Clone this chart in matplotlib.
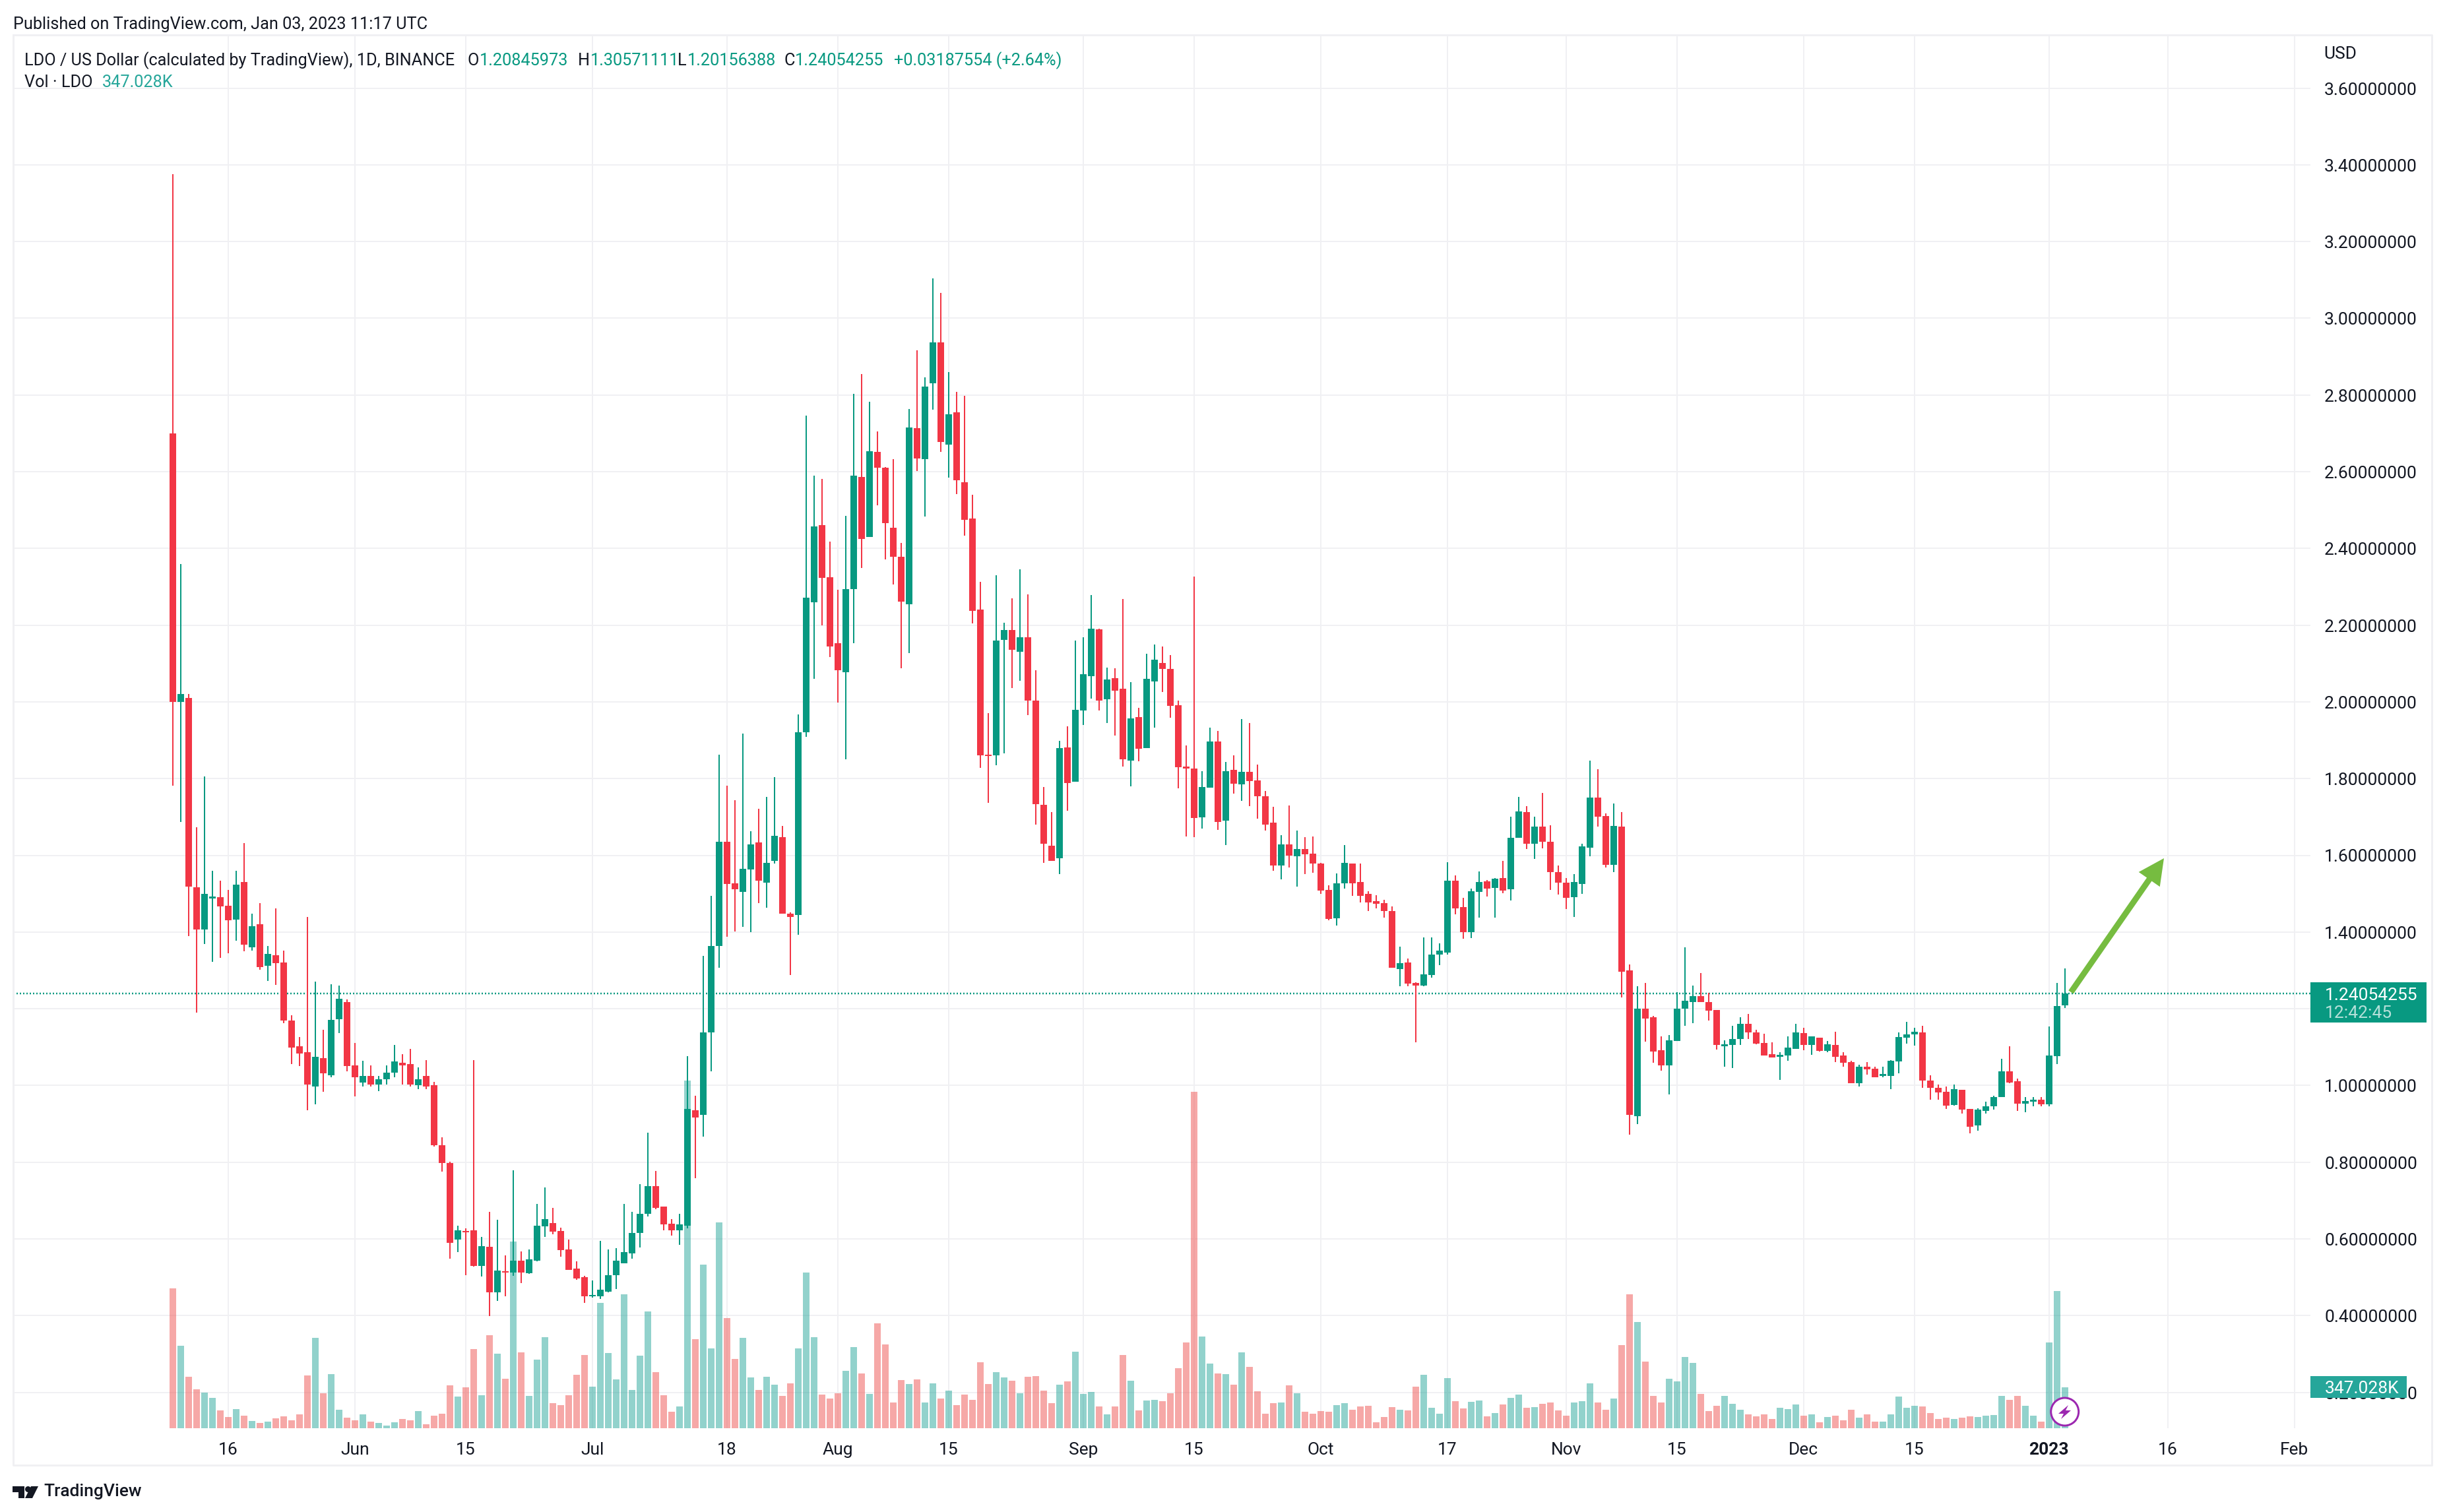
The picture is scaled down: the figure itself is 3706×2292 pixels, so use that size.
import numpy as np
import pandas as pd
import matplotlib
matplotlib.use('Agg')
import matplotlib.pyplot as plt
import matplotlib.dates as mdates
from matplotlib.patches import Rectangle, Circle, Polygon, FancyBboxPatch

plt.rcParams['font.family'] = ['Roboto', 'DejaVu Sans']

# daily LDO/USD candles, first one is 2022-05-09
opens = [2.70,2.00,2.011,1.517,1.406,1.488,1.491,1.469,1.432,1.53,1.36,1.42,1.312,1.34,1.321,1.169,1.102,1.086,0.997,1.071,
         1.026,1.172,1.217,1.053,1.007,1.024,1.003,1.017,1.034,1.059,1.055,1.0,1.024,1.0,0.845,0.798,0.598,0.62,0.622,0.529,
         0.579,0.46,0.516,0.512,0.544,0.51,0.543,0.632,0.642,0.62,0.573,0.522,0.5,0.45,0.451,0.463,0.505,0.537,0.563,0.615,
         0.665,0.737,0.684,0.639,0.623,0.634,0.935,0.924,1.139,1.363,1.635,1.527,1.504,1.563,1.634,1.529,1.585,1.647,1.447,1.445,
         1.921,2.26,2.461,2.325,2.153,2.078,2.294,2.587,2.43,2.652,2.611,2.454,2.378,2.254,2.714,2.633,2.831,2.937,2.67,2.755,
         2.573,2.478,2.24,1.862,1.86,2.161,2.188,2.131,2.168,2.003,1.732,1.625,1.592,1.881,1.791,1.977,2.067,2.189,2.006,2.061,
         2.034,1.846,1.961,1.879,2.053,2.101,2.086,1.991,1.831,1.826,1.699,1.776,1.896,1.69,1.823,1.785,1.818,1.796,1.754,1.685,
         1.573,1.628,1.597,1.616,1.604,1.578,1.51,1.436,1.527,1.578,1.53,1.499,1.481,1.475,1.454,1.304,1.32,1.268,1.261,1.288,
         1.341,1.346,1.533,1.465,1.4,1.504,1.532,1.515,1.54,1.511,1.645,1.712,1.63,1.675,1.635,1.556,1.529,1.49,1.526,1.619,
         1.751,1.702,1.575,1.675,1.3,0.92,1.2,1.178,1.092,1.052,1.116,1.2,1.218,1.232,1.218,1.196,1.103,1.106,1.121,1.16,
         1.139,1.11,1.081,1.074,1.078,1.096,1.136,1.106,1.125,1.09,1.106,1.078,1.061,1.005,1.048,1.044,1.024,1.025,1.063,1.125,
         1.133,1.139,1.013,0.994,0.983,0.949,0.989,0.939,0.895,0.934,0.945,0.969,1.037,1.011,0.953,0.958,0.963,0.951,1.077,1.208]
highs = [3.375,2.36,2.02,1.673,1.806,1.56,1.533,1.51,1.56,1.631,1.448,1.475,1.363,1.462,1.352,1.183,1.126,1.439,1.271,1.145,
         1.264,1.26,1.224,1.11,1.064,1.053,1.024,1.052,1.105,1.081,1.095,1.047,1.066,1.009,0.864,0.802,0.634,0.628,1.066,0.605,
         0.671,0.65,0.557,0.778,0.567,0.573,0.692,0.734,0.68,0.629,0.599,0.541,0.503,0.491,0.594,0.573,0.576,0.692,0.67,0.742,
         0.877,0.777,0.684,0.652,0.665,1.076,0.974,1.338,1.494,1.862,1.781,1.744,1.917,1.662,1.722,1.752,1.803,1.677,1.452,1.967,
         2.746,2.589,2.581,2.418,2.293,2.484,2.803,2.854,2.782,2.705,2.612,2.633,2.414,2.763,2.916,2.846,3.104,3.066,2.86,2.808,
         2.798,2.54,2.312,1.971,2.33,2.207,2.27,2.346,2.28,2.082,1.778,1.712,1.898,1.936,2.16,2.168,2.278,2.19,2.09,2.088,
         2.268,2.051,1.984,2.125,2.149,2.144,2.122,2.004,1.886,2.326,1.819,1.932,1.924,1.843,1.861,1.955,1.945,1.836,1.768,1.726,
         1.653,1.73,1.664,1.647,1.649,1.58,1.522,1.553,1.626,1.578,1.578,1.506,1.496,1.484,1.467,1.361,1.331,1.269,1.386,1.386,
         1.371,1.582,1.547,1.489,1.513,1.558,1.536,1.54,1.586,1.701,1.752,1.728,1.701,1.762,1.678,1.573,1.54,1.551,1.63,1.847,
         1.824,1.709,1.735,1.712,1.315,1.258,1.268,1.182,1.128,1.132,1.243,1.36,1.261,1.293,1.241,1.196,1.117,1.155,1.178,1.186,
         1.146,1.135,1.112,1.086,1.128,1.16,1.15,1.128,1.125,1.116,1.14,1.086,1.064,1.054,1.061,1.049,1.049,1.066,1.139,1.165,
         1.151,1.156,1.027,1.003,0.998,1.003,0.989,0.939,0.941,0.957,0.973,1.07,1.102,1.018,0.97,0.97,0.969,1.154,1.268,1.3057]
lows = [1.782,1.686,1.39,1.19,1.368,1.323,1.332,1.345,1.377,1.349,1.352,1.301,1.272,1.262,1.162,1.055,1.05,0.936,0.95,0.984,
        1.021,1.136,1.036,0.972,0.998,0.997,0.986,1.002,1.022,1.003,0.997,0.991,0.991,0.84,0.776,0.548,0.566,0.505,0.528,0.502,
        0.399,0.439,0.45,0.503,0.484,0.509,0.541,0.606,0.612,0.553,0.519,0.493,0.433,0.447,0.444,0.46,0.469,0.537,0.549,0.577,
        0.658,0.677,0.622,0.609,0.584,0.627,0.758,0.866,1.036,1.306,1.388,1.401,1.413,1.399,1.476,1.464,1.579,1.448,1.288,1.393,
        1.908,2.06,2.2,2.117,1.998,1.85,2.153,2.349,2.43,2.512,2.371,2.306,2.088,2.127,2.601,2.483,2.761,2.652,2.585,2.542,
        2.434,2.205,1.828,1.737,1.835,1.866,2.036,2.055,1.965,1.68,1.58,1.585,1.551,1.716,1.791,1.939,2.008,1.977,1.945,1.912,
        1.832,1.78,1.845,1.879,1.932,2.025,1.959,1.775,1.649,1.647,1.669,1.776,1.666,1.626,1.761,1.742,1.728,1.696,1.664,1.56,
        1.537,1.568,1.518,1.551,1.554,1.499,1.431,1.417,1.513,1.494,1.477,1.454,1.461,1.438,1.307,1.259,1.259,1.112,1.258,1.281,
        1.314,1.341,1.446,1.382,1.384,1.437,1.493,1.437,1.501,1.482,1.645,1.616,1.59,1.618,1.51,1.497,1.46,1.439,1.5,1.597,
        1.675,1.569,1.556,1.229,0.871,0.9,1.114,1.06,1.038,0.977,1.116,1.155,1.162,1.218,1.169,1.093,1.049,1.046,1.106,1.121,
        1.107,1.078,1.073,1.014,1.064,1.096,1.092,1.079,1.088,1.086,1.061,1.049,1.005,0.998,1.029,1.022,1.022,0.991,1.032,1.109,
        1.104,0.994,0.963,0.963,0.939,0.948,0.927,0.876,0.882,0.927,0.937,0.969,1.006,0.934,0.931,0.945,0.946,0.945,1.056,1.2016]
closes = [2.00,2.02,1.519,1.406,1.499,1.491,1.467,1.43,1.523,1.367,1.415,1.309,1.343,1.319,1.169,1.098,1.083,1.002,1.074,1.031,
          1.171,1.226,1.05,1.021,1.024,1.002,1.017,1.034,1.062,1.053,1.002,1.017,0.997,0.845,0.797,0.59,0.622,0.617,0.529,0.581,
          0.46,0.517,0.512,0.543,0.512,0.546,0.634,0.652,0.619,0.57,0.519,0.496,0.451,0.453,0.467,0.506,0.543,0.566,0.616,0.666,
          0.737,0.68,0.637,0.622,0.637,0.938,0.916,1.139,1.364,1.635,1.525,1.512,1.565,1.629,1.533,1.581,1.651,1.448,1.44,1.92,
          2.272,2.458,2.323,2.144,2.083,2.294,2.589,2.425,2.653,2.61,2.466,2.378,2.261,2.715,2.634,2.822,2.937,2.677,2.749,2.577,
          2.475,2.237,1.86,1.858,2.159,2.188,2.135,2.168,2.004,1.734,1.63,1.585,1.879,1.788,1.979,2.072,2.19,2.004,2.058,2.029,
          1.85,1.957,1.877,2.06,2.11,2.086,1.989,1.83,1.826,1.697,1.778,1.896,1.687,1.819,1.787,1.818,1.793,1.754,1.68,1.573,
          1.628,1.599,1.616,1.603,1.578,1.508,1.434,1.527,1.58,1.527,1.494,1.477,1.474,1.454,1.307,1.318,1.266,1.261,1.289,1.341,
          1.351,1.533,1.461,1.4,1.506,1.53,1.513,1.539,1.508,1.645,1.715,1.63,1.675,1.635,1.556,1.529,1.489,1.53,1.623,1.751,
          1.701,1.575,1.676,1.296,0.923,1.2,1.175,1.089,1.052,1.117,1.2,1.221,1.232,1.218,1.195,1.106,1.107,1.121,1.16,1.138,
          1.109,1.078,1.073,1.079,1.099,1.138,1.106,1.128,1.09,1.108,1.075,1.06,1.005,1.049,1.042,1.022,1.03,1.064,1.127,1.133,
          1.14,1.013,0.993,0.981,0.948,0.991,0.937,0.893,0.937,0.946,0.969,1.037,1.008,0.953,0.96,0.963,0.951,1.078,1.207,1.2405]
# volume in thousands of LDO
volumes = [1187,700,437,330,302,258,151,95,162,106,62,45,56,84,101,67,118,448,767,297,
           459,157,90,67,118,56,45,22,50,78,67,146,34,106,123,364,269,347,672,280,
           790,633,420,1585,644,274,582,773,213,196,280,454,622,353,1064,638,414,1137,325,616,
           991,476,280,140,185,2952,756,1389,678,1747,935,588,767,431,325,437,370,274,381,678,
           1322,773,286,252,297,487,689,465,291,891,711,218,409,375,414,218,381,252,319,196,
           286,241,560,375,476,431,403,297,437,442,319,213,370,398,650,291,308,185,118,185,
           622,403,151,235,241,230,297,510,728,2856,779,549,465,459,370,644,521,314,123,213,
           218,364,297,140,123,146,140,196,213,157,185,190,50,95,179,157,151,353,454,174,
           123,426,230,168,224,235,101,129,202,258,286,174,179,207,218,151,106,218,230,381,
           218,157,252,706,1137,902,566,274,218,420,398,605,554,291,146,190,274,207,157,118,
           101,118,78,174,162,202,106,118,50,95,106,67,157,90,118,56,56,118,269,174,
           190,185,129,78,90,78,90,101,95,106,112,274,241,274,190,106,56,730,1165,347]

dates = pd.date_range('2022-05-09', periods=len(opens))
price_ticks = [3.6,3.4,3.2,3.0,2.8,2.6,2.4,2.2,2.0,1.8,1.6,1.4,1.2,1.0,0.8,0.6,0.4,0.2]
time_ticks = ['2022-05-16','2022-06-01','2022-06-15','2022-07-01','2022-07-18','2022-08-01','2022-08-15','2022-09-01','2022-09-15',
              '2022-10-01','2022-10-17','2022-11-01','2022-11-15','2022-12-01','2022-12-15','2023-01-01','2023-01-16','2023-02-01']
time_labels = ['16','Jun','15','Jul','18','Aug','15','Sep','15','Oct','17','Nov','15','Dec','15','2023','16','Feb']
last_price = 1.24054255

GREEN = '#089981'
RED = '#F23645'
TEXT = '#131722'
GRID = '#f0f0f3'
W, H = 3706, 2292
PX = 0.72  # one pixel in points at dpi 100

fig = plt.figure(figsize=(W / 100, H / 100), dpi=100, facecolor='white')

# pane: 20..3502 across, 53..2165 down
ax = fig.add_axes([20 / W, 1 - 2165 / H, 3482 / W, 2112 / H])
x = mdates.date2num(dates)
x0 = x[0] + (20 - 261.8) / 12
x1 = x[0] + (3502 - 261.8) / 12
ax.set_xlim(x0, x1)
y_top = 1.6 + (1296.5 - 53) / 581.5
y_bot = 1.6 - (2165 - 1296.5) / 581.5
ax.set_ylim(y_bot, y_top)
for s in ax.spines.values():
    s.set_visible(False)
ax.set_xticks(mdates.date2num(pd.to_datetime(time_ticks)))
ax.set_yticks(price_ticks)
ax.tick_params(left=False, bottom=False, labelleft=False, labelbottom=False)
ax.grid(True, color=GRID, lw=2 * PX, zorder=0)
ax.set_axisbelow(True)

o = np.array(opens)
c = np.array(closes)
up = c >= o
colors = np.where(up, GREEN, RED)
vol_colors = np.where(up, '#26a69a', '#ef5350')

# volume sits on the pane bottom, 5.6K per pixel
vol_scale = (y_top - y_bot) / (2112 * 5.6)
ax.bar(x, np.array(volumes) * vol_scale, bottom=y_bot, width=10 / 12, color=vol_colors, alpha=0.5, lw=0, zorder=1)

ax.axhline(last_price, color=GREEN, lw=2.5 * PX, ls=(0, (0.8, 1.2)), zorder=2)

wicks = ax.vlines(x, lows, highs, colors=colors, lw=2 * PX, zorder=3)
wicks.set_snap(True)
body = np.maximum(np.abs(c - o), 0.004)
ax.bar(x, body, bottom=np.minimum(o, c), width=10 / 12, color=colors, lw=0, zorder=4)

# everything around the pane is placed in picture pixels
ov = fig.add_axes([0, 0, 1, 1], facecolor='none')
ov.set_xlim(0, W)
ov.set_ylim(H, 0)
ov.axis('off')

ov.plot([20, 3686, 3686, 20, 20], [53, 53, 2221, 2221, 53], color=GRID, lw=3 * PX, zorder=1)

FS = 19     # price and time scale
HS = 18.2   # header and legend
for val in price_ticks:
    py = 1296.5 + (1.6 - val) * 581.5
    ov.text(3664, py + 3, '%.8f' % val, ha='right', va='center', fontsize=FS, color=TEXT, zorder=2)
ov.text(3522, 82, 'USD', ha='left', va='center', fontsize=FS, color=TEXT)

for d, lab in zip(time_ticks, time_labels):
    tx = 261.8 + 12 * (pd.Timestamp(d) - dates[0]).days
    ov.text(tx, 2198, lab, ha='center', va='center', fontsize=FS, color=TEXT,
            fontweight='bold' if lab == '2023' else 'normal')

# header and legend
ov.text(20, 37, 'Published on TradingView.com, Jan 03, 2023 11:17 UTC', va='center', fontsize=HS, color=TEXT)
LY = 92
ov.text(37, LY, 'LDO / US Dollar (calculated by TradingView), 1D, BINANCE', va='center', fontsize=HS, color=TEXT)
for lab, lx, val, vx in [('O', 708, '1.20845973', 727), ('H', 876, '1.30571111', 895),
                         ('L', 1027, '1.20156388', 1042), ('C', 1188, '1.24054255', 1205)]:
    ov.text(lx, LY, lab, va='center', fontsize=HS, color=TEXT)
    ov.text(vx, LY, val, va='center', fontsize=HS, color=GREEN)
ov.text(1355, LY, '+0.03187554 (+2.64%)', va='center', fontsize=HS, color=GREEN)
ov.text(37, 125, 'Vol · LDO', va='center', fontsize=HS, color=TEXT)
ov.text(155, 125, '347.028K', va='center', fontsize=HS, color='#26a69a')

# last price and volume tags
ov.add_patch(Rectangle((3502, 1489), 176, 61, color=GREEN, lw=0, zorder=3))
ov.text(3664, 1509, '1.24054255', ha='right', va='center', fontsize=FS, color='white', zorder=4)
ov.text(3524, 1536, '12:42:45', ha='left', va='center', fontsize=FS, color='white', alpha=0.7, zorder=4)
ov.add_patch(Rectangle((3502, 2086), 146, 33, color='#26a69a', lw=0, zorder=3))
ov.text(3524, 2105, '347.028K', ha='left', va='center', fontsize=FS, color='white', zorder=4)

# green arrow
ov.annotate('', xy=(3280, 1301), xytext=(3139, 1504),
            arrowprops=dict(width=9 * PX, headwidth=39 * PX, headlength=39 * PX, color='#76bc40', lw=0, shrink=0), zorder=5)

# lightning badge on the last bar
ov.add_patch(Circle((3129.7, 2140), 21, fc='white', ec='#9c27b0', lw=3 * PX, zorder=6))
ov.add_patch(Polygon([(3135, 2130), (3120, 2143), (3128, 2143), (3124, 2151), (3139, 2138), (3131, 2138)],
                     closed=True, fc='#9c27b0', lw=0, zorder=7))

# TradingView mark, bottom left
ov.add_patch(Polygon([(19, 2253), (37, 2253), (37, 2271), (28, 2271), (28, 2262), (19, 2262)], closed=True, fc=TEXT, lw=0))
ov.add_patch(Circle((42.5, 2257.5), 4.5, fc=TEXT, lw=0))
ov.add_patch(Polygon([(47, 2253), (58, 2253), (49, 2271), (38, 2271)], closed=True, fc=TEXT, lw=0))
ov.text(66, 2261, 'TradingView', va='center', fontsize=19, color=TEXT, fontweight='medium')

fig.savefig('out.png', dpi=100, facecolor='white')
